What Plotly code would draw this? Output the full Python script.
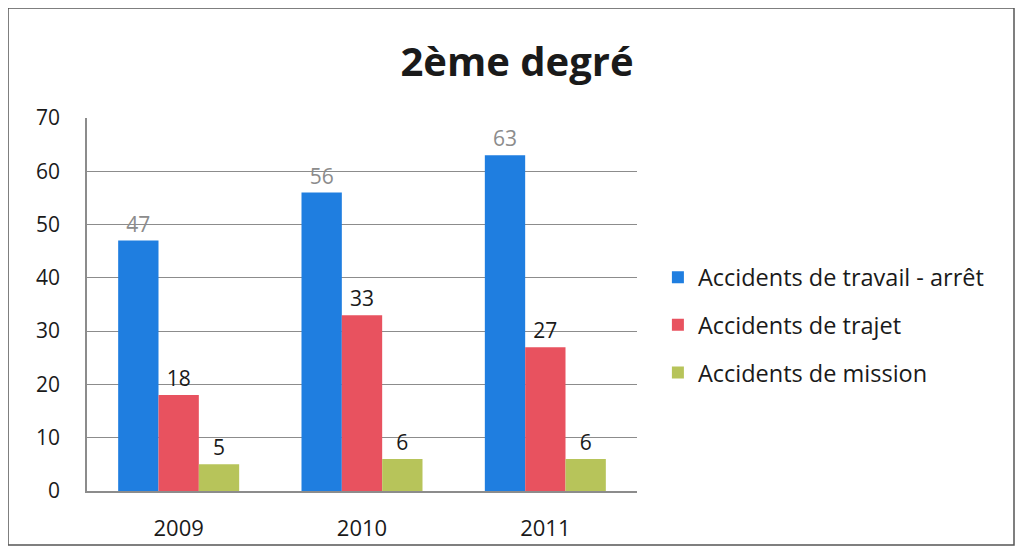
import plotly.graph_objects as go

years = ["2009", "2010", "2011"]
travail = [47, 56, 63]
trajet = [18, 33, 27]
mission = [5, 6, 6]

series = [
    ("Accidents de travail - arrêt", travail, "#1f7ee0", "#8c8c8c"),
    ("Accidents de trajet", trajet, "#e8525f", "#1a1a1a"),
    ("Accidents de mission", mission, "#b7c45a", "#1a1a1a"),
]

fig = go.Figure()
for name, vals, color, label_color in series:
    fig.add_trace(go.Bar(
        x=years, y=vals, name=name, legendgroup=name,
        marker_color=color, marker_line_width=0,
        text=vals, textposition="outside", cliponaxis=False,
        textfont=dict(size=21, color=label_color, family="Open Sans"),
    ))

# the page body adds an 8px offset, so the figure is 8px smaller on each side
fig.update_layout(
    width=1007, height=539,
    margin=dict(l=79, r=378, t=110, b=56),
    paper_bgcolor="white", plot_bgcolor="white",
    barmode="group", bargap=0.34, bargroupgap=0,
    font=dict(family="Open Sans", color="#1a1a1a"),
    title=dict(text="<b>2ème degré</b>", x=0.5055, xref="container", xanchor="center",
               y=0.90, yref="container", yanchor="middle",
               font=dict(size=40, color="#1a1a1a", family="Open Sans")),
    legend=dict(x=1.038, xanchor="left", y=0.445, yanchor="middle",
                font=dict(size=23.5, color="#1a1a1a"), tracegroupgap=14,
                itemsizing="constant", itemwidth=30),
    showlegend=True,
)
fig.update_xaxes(showline=True, linecolor="#8c8c8c", linewidth=1.5, ticks="", automargin=False,
                 ticklabelstandoff=17, tickfont=dict(size=22, color="#1a1a1a"))
fig.update_yaxes(range=[0, 70], dtick=10, showgrid=True, gridcolor="#8c8c8c", gridwidth=1,
                 showline=True, linecolor="#8c8c8c", linewidth=1.5, zeroline=False, automargin=False,
                 ticks="", ticklabelstandoff=21, tickfont=dict(size=21, color="#1a1a1a"))

# outer frame of the chart
fig.add_shape(type="rect", xref="paper", yref="paper",
              x0=-79 / 550, x1=(1014 - 87) / 550, y0=-(545 - 491) / 373, y1=(491 - 8) / 373,
              line=dict(color="#555555", width=1.5), fillcolor="rgba(0,0,0,0)", layer="below")

fig.write_html("out.html")
